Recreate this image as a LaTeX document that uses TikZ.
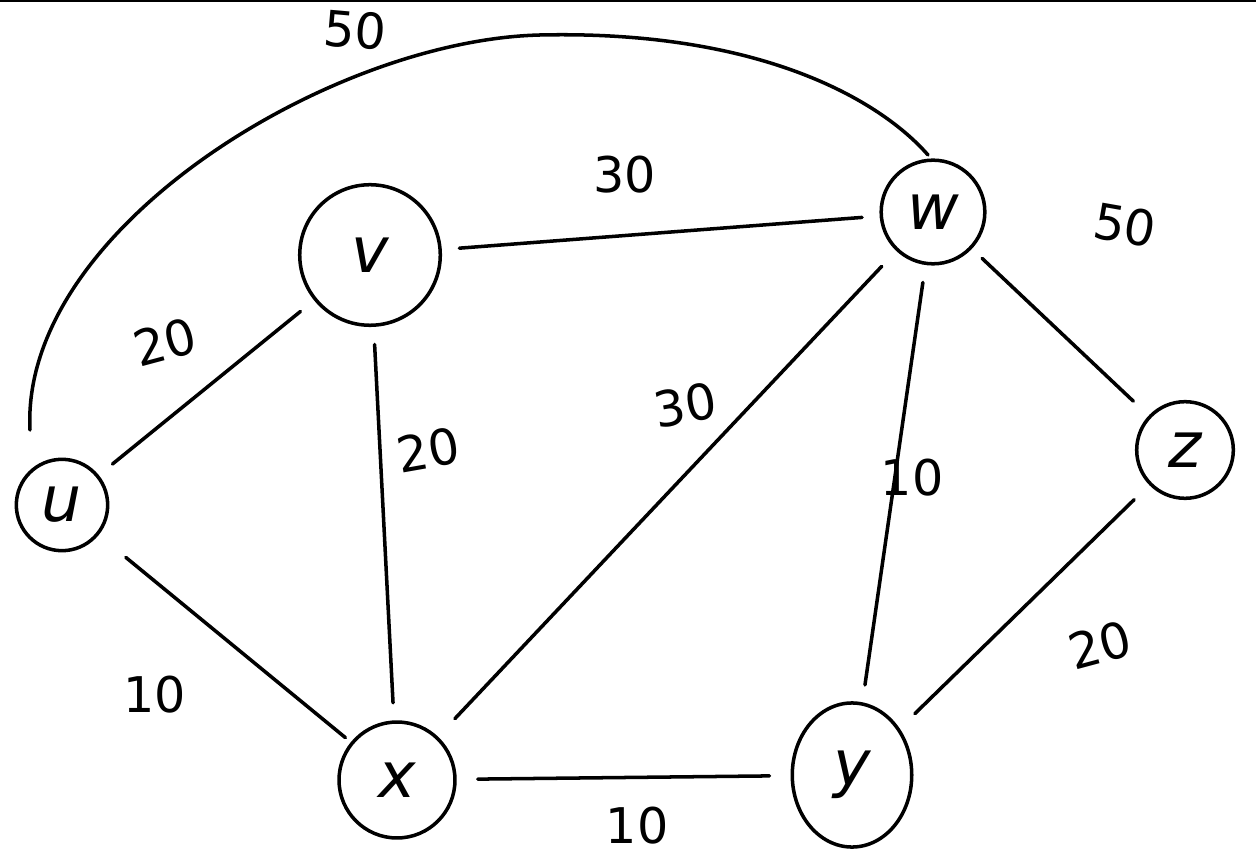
\documentclass[tikz,border=0pt]{standalone}
\usepackage{fontspec}
\usetikzlibrary{shapes.geometric}
\setmainfont{DejaVu Sans}
\begin{document}
\begin{tikzpicture}[x=0.02cm,y=-0.02cm,
  vert/.style={circle,draw,line width=2pt,font=\fontsize{36}{36}\selectfont\itshape,inner sep=0pt},
  edge/.style={line width=2pt,line cap=round},
  lbl/.style={font=\fontsize{28}{28}\selectfont}]
\useasboundingbox (0,0) rectangle (1256,857);
\draw[line width=1pt] (0,1) -- (1256,1);
\node[vert,minimum size=52pt] (u) at (62,505) {u};
\node[vert,minimum size=80pt] (v) at (370,255) {v};
\node[vert,minimum size=59pt] (w) at (933,212) {w};
\node[vert,minimum size=55pt] (z) at (1185,450) {z};
\node[vert,minimum size=66pt] (x) at (397,780) {x};
\node[vert,ellipse,minimum width=68pt,minimum height=82pt] (y) at (852,775) {y};
\coordinate (ua) at (30,430);
\coordinate (wa) at (928,155);
\draw[edge] (ua) .. controls (20,230) and (330,40) .. (540,35) .. controls (760,30) and (880,100) .. (wa);
\draw[edge,shorten >=10pt,shorten <=10pt] (v) -- (w);
\draw[edge,shorten >=10pt,shorten <=10pt] (u) -- (v);
\draw[edge,shorten >=10pt,shorten <=10pt] (v) -- (x);
\draw[edge,shorten >=12pt,shorten <=14pt] (x) -- (w);
\draw[edge,shorten >=10pt,shorten <=10pt] (w) -- (y);
\draw[edge,shorten >=12pt,shorten <=8pt] (w) -- (z);
\draw[edge,shorten >=12pt,shorten <=12pt] (z) -- (y);
\draw[edge,shorten >=4pt,shorten <=20pt] (u) -- (x);
\draw[edge,shorten >=12pt,shorten <=12pt] (x) -- (y);
\node[lbl,rotate=-5] (l1) at (355,30) {50};
\node[lbl] (l2) at (625,175) {30};
\node[lbl,rotate=-10] (l3) at (1125,225) {50};
\node[lbl,rotate=15] (l4) at (165,342) {20};
\node[lbl,rotate=10] (l5) at (428,450) {20};
\node[lbl,rotate=10] (l6) at (685,405) {30};
\node[lbl] (l7) at (912,478) {10};
\node[lbl,rotate=15] (l8) at (1100,645) {20};
\node[lbl] (l9) at (155,695) {10};
\node[lbl] (l10) at (637,826) {10};
\end{tikzpicture}
\end{document}
